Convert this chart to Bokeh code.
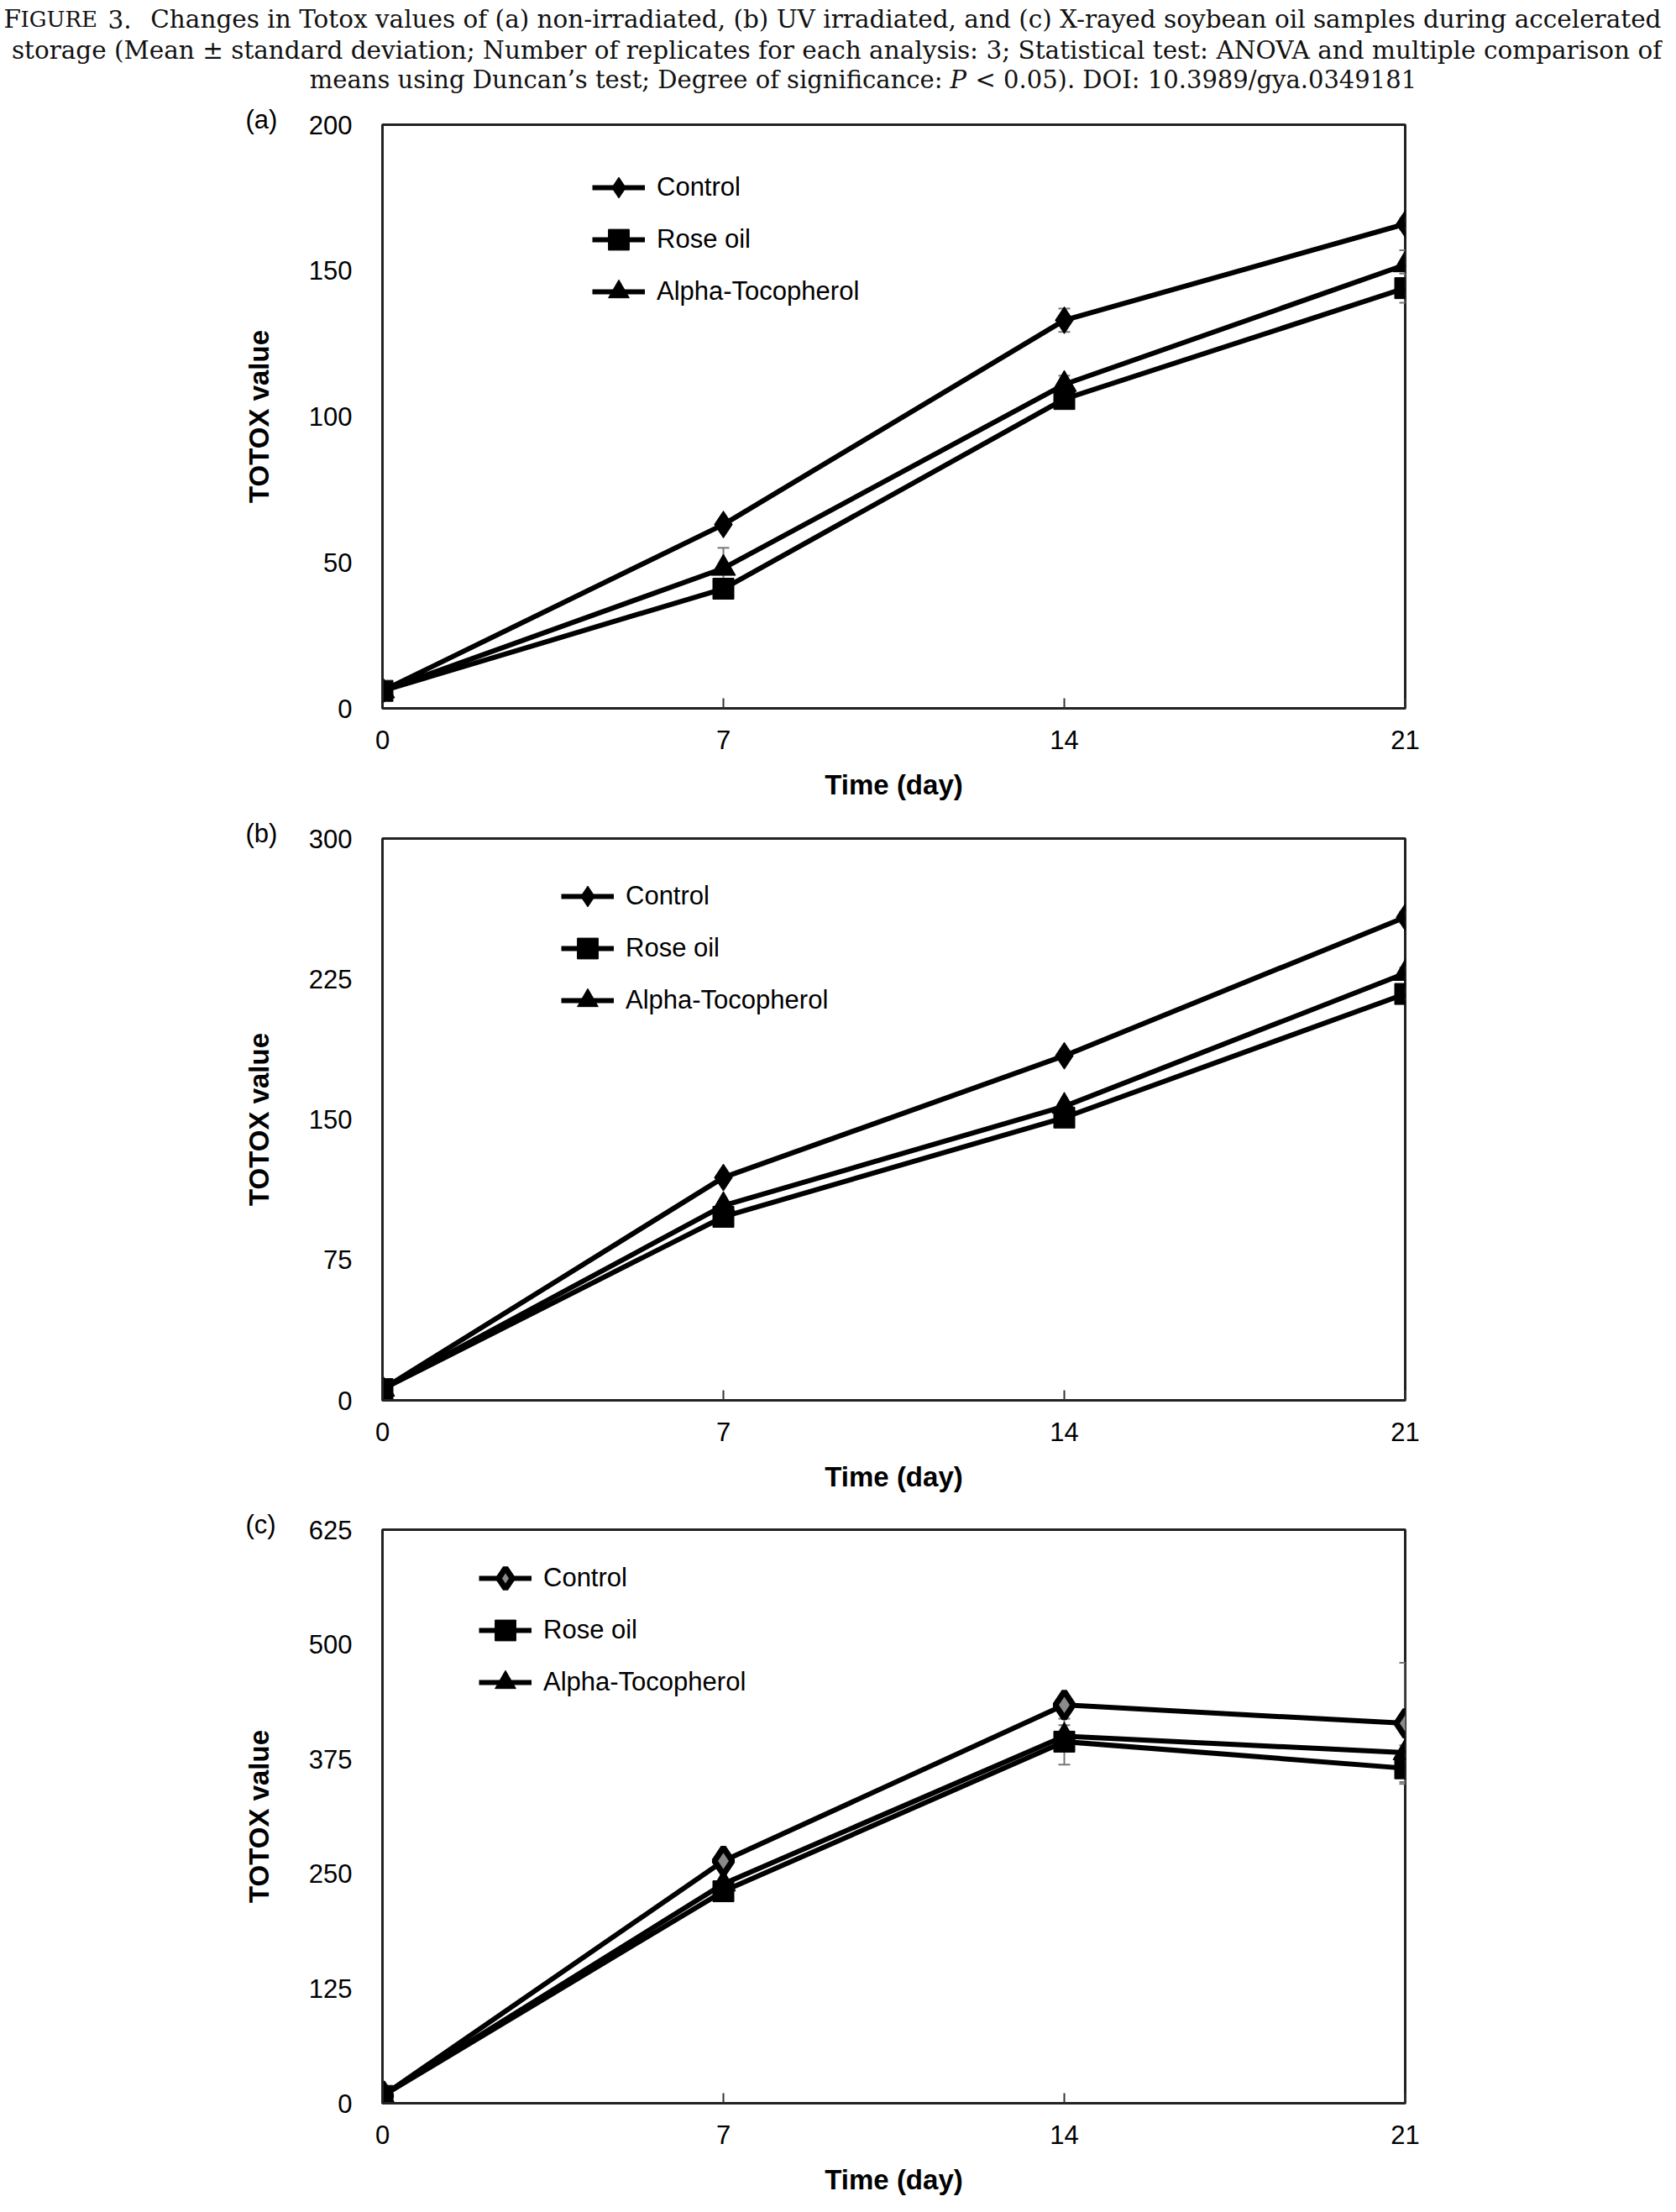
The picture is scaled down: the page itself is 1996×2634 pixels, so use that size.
from bokeh.plotting import figure
from bokeh.layouts import column
from bokeh.models import Range1d, FixedTicker, Legend, LegendItem, Whisker, ColumnDataSource
from bokeh.core.properties import value
from bokeh.embed import file_html
from bokeh.resources import INLINE

# ---------------- data ----------------
days = [0, 7, 14, 21]
series_names = ["Control", "Rose oil", "Alpha-Tocopherol"]

a_control = [6, 63, 133, 166]
a_control_sd = [1, 1.5, 4, 2]
a_rose = [6, 41, 106, 144]
a_rose_sd = [1, 2, 3, 5]
a_alpha = [6, 48, 111, 152]
a_alpha_sd = [1, 7, 3, 5]

b_control = [6, 119, 184, 258]
b_control_sd = [1, 2, 2, 3]
b_rose = [6, 98, 151, 217]
b_rose_sd = [1, 2, 2, 3]
b_alpha = [6, 104, 157, 228]
b_alpha_sd = [1, 2, 2, 3]

c_control = [8, 264, 434, 414]
c_control_sd = [1, 3, 8, 66]
c_rose = [8, 231, 394, 365]
c_rose_sd = [1, 4, 25, 15]
c_alpha = [8, 239, 400, 382]
c_alpha_sd = [1, 4, 12, 8]

a_yticks = [0, 50, 100, 150, 200]
b_yticks = [0, 75, 150, 225, 300]
c_yticks = [0, 125, 250, 375, 500, 625]
x_ticks = [0, 7, 14, 21]

caption_line1_a = "F"
caption_line1_b = "IGURE"
caption_line1_n = "3."
caption_line1_c = "Changes in Totox values of (a) non-irradiated, (b) UV irradiated, and (c) X-rayed soybean oil samples during accelerated"
caption_line2 = "storage (Mean \u00b1 standard deviation; Number of replicates for each analysis: 3; Statistical test: ANOVA and multiple comparison of"
caption_line3_a = "means using Duncan\u2019s test; Degree of significance:"
caption_line3_b = "P"
caption_line3_c = "< 0.05). DOI: 10.3989/gya.0349181"

W = 1980
FL, FW = 455, 1218
FR = W - FL - FW
SANS = "Liberation Sans"
SERIF = "DejaVu Serif"

# ---------------- caption (separate root, no axes) ----------------
CAP_H = 114
cap = figure(width=W, height=CAP_H, x_range=Range1d(0, W), y_range=Range1d(CAP_H, 0),
             x_axis_type=None, y_axis_type=None,
             output_backend="svg", toolbar_location=None, min_border=0)
cap.grid.visible = False
cap.outline_line_color = None
common = dict(text_font=value(SERIF), text_color="#111111", text_baseline="alphabetic")
CS = "29.5px"
CS3 = "29px"
Y1, Y2, Y3 = 22, 59, 94
PX = 1131
cap.text(x=[4], y=[Y1], text=[caption_line1_a], text_font_size=CS, text_align="left", **common)
cap.text(x=[24], y=[Y1], text=[caption_line1_b], text_font_size="26px", text_align="left", **common)
cap.text(x=[128], y=[Y1], text=[caption_line1_n], text_font_size=CS, text_align="left", **common)
cap.text(x=[1978], y=[Y1], text=[caption_line1_c], text_font_size=CS, text_align="right", **common)
cap.text(x=[996], y=[Y2], text=[caption_line2], text_font_size=CS, text_align="center", **common)
cap.text(x=[PX - 9], y=[Y3], text=[caption_line3_a], text_font_size=CS3, text_align="right", **common)
cap.text(x=[PX], y=[Y3], text=[caption_line3_b], text_font_size=CS3, text_align="left",
         text_font_style="italic", **common)
cap.text(x=[PX + 30], y=[Y3], text=[caption_line3_c], text_font_size=CS3, text_align="left", **common)


def make_panel(tag, ymax, yticks, vals, sds, grey_control, top, fh, bottom, leg_left, leg_row1):
    p = figure(width=W, height=top + fh + bottom,
               x_range=Range1d(0, 21), y_range=Range1d(0, ymax),
               output_backend="svg", toolbar_location=None,
               min_border_left=FL, min_border_right=FR,
               min_border_top=top, min_border_bottom=bottom)
    p.grid.visible = False
    p.outline_line_color = "#222222"
    p.outline_line_width = 3

    # panel tag "(a)" etc. as the title, placed left of the frame
    p.title.text = tag
    p.title.align = "left"
    p.title.offset = -163
    p.title.standoff = -22
    p.title.text_font = SANS
    p.title.text_font_style = "normal"
    p.title.text_font_size = "31px"
    p.title.text_color = "black"

    xa = p.xaxis[0]
    xa.ticker = FixedTicker(ticks=x_ticks)
    xa.major_tick_in = 12
    xa.major_tick_out = 0
    xa.minor_tick_line_color = None
    xa.major_tick_line_color = "#333333"
    xa.major_tick_line_width = 2
    xa.axis_line_color = "#222222"
    xa.axis_line_width = 3
    xa.major_label_text_font = SANS
    xa.major_label_text_font_size = "31px"
    xa.major_label_text_color = "black"
    xa.major_label_standoff = 26
    xa.axis_label = "Time (day)"
    xa.axis_label_text_font = SANS
    xa.axis_label_text_font_style = "bold"
    xa.axis_label_text_font_size = "33px"
    xa.axis_label_text_color = "black"
    xa.axis_label_standoff = 21

    ya = p.yaxis[0]
    ya.ticker = FixedTicker(ticks=yticks)
    ya.major_tick_in = 0
    ya.major_tick_out = 0
    ya.minor_tick_line_color = None
    ya.axis_line_color = "#222222"
    ya.axis_line_width = 3
    ya.major_label_text_font = SANS
    ya.major_label_text_font_size = "31px"
    ya.major_label_text_color = "black"
    ya.major_label_standoff = 36
    ya.axis_label = "TOTOX value"
    ya.axis_label_text_font = SANS
    ya.axis_label_text_font_style = "bold"
    ya.axis_label_text_font_size = "33px"
    ya.axis_label_text_color = "black"
    ya.axis_label_standoff = 38

    markers = [("diamond", 32), ("square", 25), ("triangle", 29)]
    items = []
    for i, name in enumerate(series_names):
        y = vals[i]
        sd = sds[i]
        src = ColumnDataSource(dict(x=days, y=y,
                                    lo=[a - b for a, b in zip(y, sd)],
                                    hi=[a + b for a, b in zip(y, sd)]))
        w = Whisker(source=src, base="x", lower="lo", upper="hi", dimension="height",
                    line_color="#777777", line_width=2, level="underlay")
        for h in (w.upper_head, w.lower_head):
            h.size = 14
            h.line_color = "#777777"
            h.line_width = 2
        p.add_layout(w)
        lr = p.line("x", "y", source=src, line_color="black", line_width=6)
        mk, sz = markers[i]
        if i == 0 and grey_control:
            sr = p.scatter("x", "y", source=src, marker=mk, size=sz,
                           fill_color="#8a8a8a", line_color="black", line_width=7)
        else:
            sr = p.scatter("x", "y", source=src, marker=mk, size=sz,
                           fill_color="black", line_color="black", line_width=1)
        items.append(LegendItem(label=name, renderers=[lr, sr]))

    gh = 62
    leg_h = 3 * gh
    leg_top = leg_row1 - gh // 2
    legend = Legend(items=items, location=(leg_left, fh - leg_top - leg_h),
                    glyph_width=63, glyph_height=gh, label_height=gh, spacing=0,
                    padding=0, margin=0, label_standoff=14,
                    label_text_font=SANS, label_text_font_size="31px", label_text_color="black",
                    border_line_alpha=0, background_fill_alpha=0)
    p.add_layout(legend, "center")
    return p


pa = make_panel("(a)", 200, a_yticks,
                [a_control, a_rose, a_alpha], [a_control_sd, a_rose_sd, a_alpha_sd],
                False, 34, 695, 122, 250, 75)
pb = make_panel("(b)", 300, b_yticks,
                [b_control, b_rose, b_alpha], [b_control_sd, b_rose_sd, b_alpha_sd],
                False, 33, 669, 123, 213, 69)
pc = make_panel("(c)", 625, c_yticks,
                [c_control, c_rose, c_alpha], [c_control_sd, c_rose_sd, c_alpha_sd],
                True, 31, 683, 114, 115, 58)

panels = column(pa, pb, pc, spacing=0)
open("out.html", "w").write(file_html([cap, panels], INLINE))
